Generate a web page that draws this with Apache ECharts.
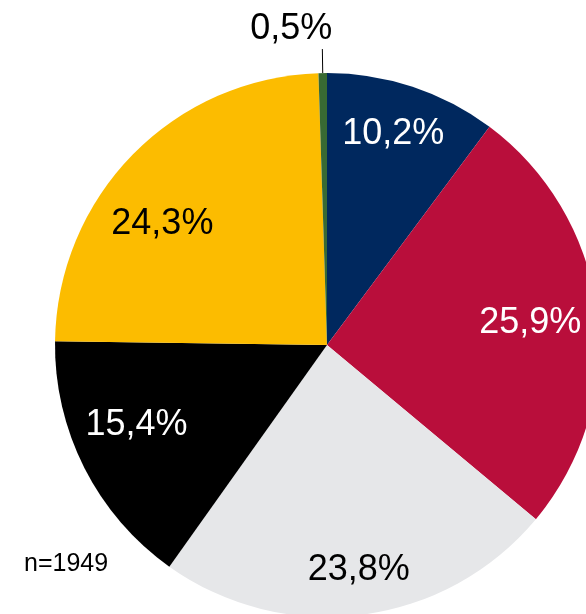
<!DOCTYPE html>
<html>
<head>
<meta charset="utf-8">
<script src="https://cdn.jsdelivr.net/npm/echarts@6/dist/echarts.min.js"></script>
<style>
  html, body { margin: 0; padding: 0; background: #fff; }
  #main { width: 586px; height: 614px; }
</style>
</head>
<body>
<div id="main"></div>
<script>
// Anteile (Uhrzeigersinn ab 12 Uhr)
var categories = ["A", "B", "C", "D", "E", "F"];
var values = [10.2, 25.9, 23.8, 15.4, 24.3, 0.5];
var labels = ["10,2%", "25,9%", "23,8%", "15,4%", "24,3%", "0,5%"];
var note = "n=1949";

var colors = ["#00285e", "#b90e3b", "#e6e7e9", "#000000", "#fcbc00", "#386a33"];
var labelColors = ["#fff", "#fff", "#000", "#fff", "#000", "#000"];
// kleine Verschiebungen der Beschriftung (Stil)
var nudge = [[-2, -5], [-12, 4], [4, 10], [3, -18], [-10, 31], [15, -20]];

var cx = 327, cy = 345, radius = 272;

var myChart = echarts.init(document.getElementById("main"));

var data = values.map(function (v, i) {
  var item = {
    name: categories[i],
    value: v,
    itemStyle: { color: colors[i] },
    label: { color: labelColors[i] }
  };
  if (i === 5) {
    item.label = {
      position: "outside",
      color: "#000",
      fontSize: 36
    };
    item.labelLine = {
      show: true,
      length: 24,
      length2: 0,
      smooth: false,
      lineStyle: { color: "#000", width: 1 }
    };
  }
  return item;
});

var option = {
  animation: false,
  title: {
    text: note,
    left: 19,
    top: 547,
    textStyle: {
      fontFamily: "Liberation Sans",
      fontWeight: "normal",
      fontSize: 25,
      color: "#000"
    }
  },
  series: [
    {
      type: "pie",
      center: [cx, cy],
      radius: [0, radius],
      startAngle: 90,
      clockwise: true,
      avoidLabelOverlap: false,
      itemStyle: { borderWidth: 0 },
      emphasis: { disabled: true },
      label: {
        show: true,
        position: "inside",
        fontFamily: "Liberation Sans",
        fontSize: 36,
        formatter: function (p) {
          return labels[p.dataIndex];
        }
      },
      labelLine: { show: false },
      labelLayout: function (params) {
        var i = params.dataIndex;
        var r = params.labelRect;
        if (i === 5) {
          return { dx: nudge[i][0], dy: nudge[i][1] };
        }
        var lx = r.x + r.width / 2;
        var ly = r.y + r.height / 2;
        return {
          dx: (lx - cx) * 0.56 + nudge[i][0],
          dy: (ly - cy) * 0.56 + nudge[i][1]
        };
      },
      data: data
    }
  ]
};

myChart.setOption(option);
</script>
</body>
</html>
